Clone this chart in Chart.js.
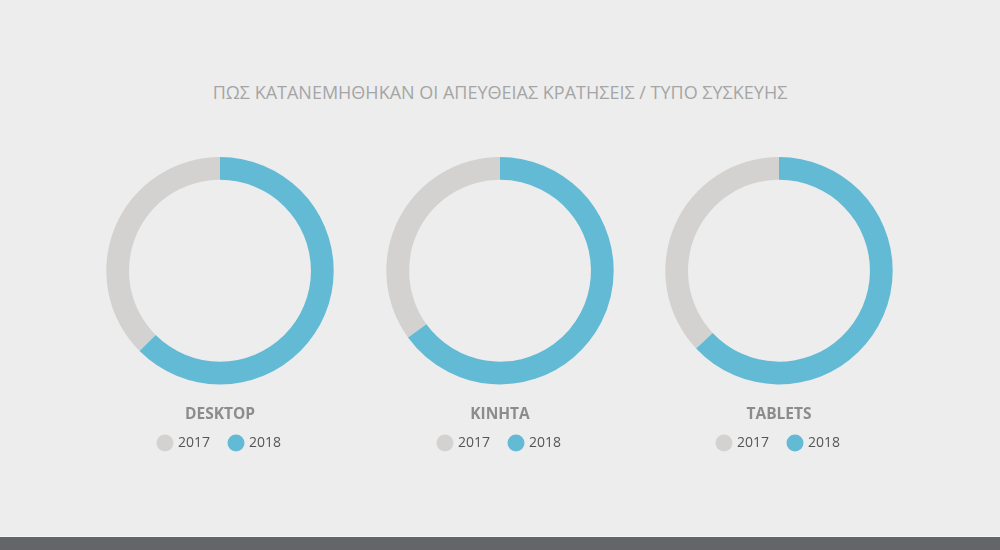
<!DOCTYPE html>
<html>
<head>
<meta charset="utf-8">
<script src="https://cdn.jsdelivr.net/npm/chart.js@4"></script>
<style>
  html, body { margin: 0; padding: 0; }
  body { width: 1000px; height: 550px; background: #ededed; position: relative; overflow: hidden; font-family: 'Open Sans', sans-serif; }
  #title { position: absolute; left: 0; top: 80px; width: 1000px; text-align: center; font-size: 18px; color: #a5a5a5; }
  .box { position: absolute; top: 150px; width: 280px; height: 310px; }
  #footer { position: absolute; left: 0; top: 536px; width: 1000px; height: 14px; background: #646569; border-top: 1px solid #f6f6f6; }
</style>
</head>
<body>
<div id="title">ΠΩΣ ΚΑΤΑΝΕΜΗΘΗΚΑΝ ΟΙ ΑΠΕΥΘΕΙΑΣ ΚΡΑΤΗΣΕΙΣ / ΤΥΠΟ ΣΥΣΚΕΥΗΣ</div>
<div class="box" style="left:80px"><canvas id="c0"></canvas></div>
<div class="box" style="left:360px"><canvas id="c1"></canvas></div>
<div class="box" style="left:639px"><canvas id="c2"></canvas></div>
<div id="footer"></div>
<script>
const devices = ['DESKTOP', 'ΚΙΝΗΤΑ', 'TABLETS'];
const years = ['2017', '2018'];
const share2017 = [37.5, 35, 37];
const share2018 = [62.5, 65, 63];
const colors = ['#d3d2d0', '#62bad5'];

devices.forEach((name, i) => {
  const values = [share2017[i], share2018[i]];
  const total = values[0] + values[1];
  new Chart(document.getElementById('c' + i), {
    type: 'doughnut',
    data: {
      labels: years,
      datasets: [{
        data: values,
        backgroundColor: colors,
        borderWidth: 0,
        hoverOffset: 0
      }]
    },
    options: {
      responsive: true,
      maintainAspectRatio: false,
      animation: false,
      cutout: '80%',
      // 2017 ends at 12 o'clock, 2018 runs clockwise from there
      rotation: -360 * values[0] / total,
      layout: { padding: { top: 7, bottom: 0 } },
      plugins: {
        tooltip: { enabled: false },
        title: {
          display: true,
          text: name,
          position: 'bottom',
          weight: 500,
          color: '#8c8c8c',
          font: { family: 'Open Sans', size: 15.5, weight: 'bold' },
          padding: { top: 21, bottom: -8 }
        },
        legend: {
          position: 'bottom',
          labels: {
            usePointStyle: true,
            pointStyle: 'circle',
            boxWidth: 12,
            boxHeight: 12,
            padding: 20,
            color: '#555',
            font: { family: 'Open Sans', size: 14 }
          }
        }
      }
    }
  });
});
</script>
</body>
</html>
